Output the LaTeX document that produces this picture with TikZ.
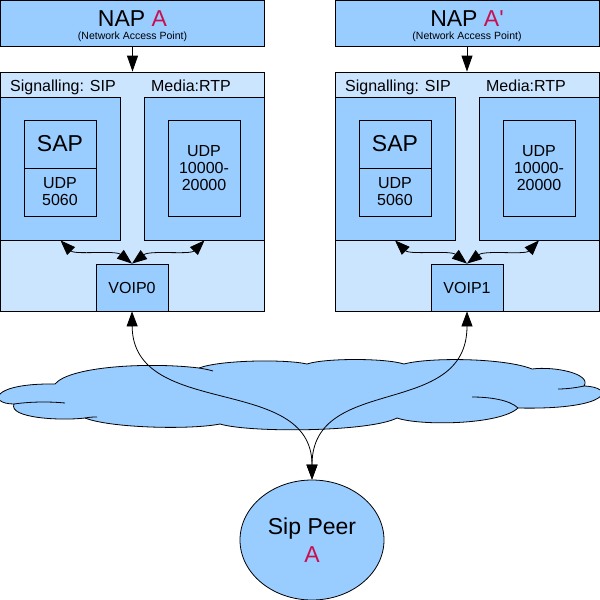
\documentclass[tikz,border=0pt]{standalone}
\usepackage{fontspec}
\setmainfont{Liberation Sans}
\usetikzlibrary{arrows.meta,shapes.geometric}
\definecolor{boxblue}{HTML}{99CCFF}
\definecolor{paleblue}{HTML}{CCE5FF}
\definecolor{napred}{HTML}{C8104E}
\tikzset{
  box/.style={draw, fill=boxblue, line width=0.8pt, inner sep=0pt, align=center, font=\fontsize{16}{17}\selectfont},
  host/.style={draw, fill=paleblue, line width=0.8pt, inner sep=0pt},
  title/.style={anchor=base, inner sep=0pt, font=\fontsize{16}{17}\selectfont},
  link/.style={line width=0.8pt, -{Triangle[length=16pt,width=11pt]}},
  dlink/.style={line width=0.8pt, {Triangle[length=15pt,width=11pt]}-{Triangle[length=15pt,width=11pt]}}
}
\begin{document}
\begin{tikzpicture}[x=1pt,y=-1pt]
\useasboundingbox (0,0) rectangle (600,600);
\filldraw[fill=boxblue, line width=0.8pt] (14,404) .. controls (-12,404) and (-10,383) .. (55,384)
  .. controls (70,366) and (150,362) .. (199,368)
  .. controls (220,360) and (285,359) .. (307,364)
  .. controls (325,358) and (385,358) .. (404,364)
  .. controls (430,357) and (505,358) .. (532,369)
  .. controls (555,366) and (592,374) .. (584,386)
  .. controls (616,387) and (612,410) .. (518,408)
  .. controls (500,425) and (420,426) .. (397,418)
  .. controls (370,432) and (250,433) .. (220,424)
  .. controls (190,430) and (110,428) .. (85,418)
  .. controls (60,421) and (8,418) .. (14,404) -- cycle;
\draw[line width=0.8pt] (14,404) .. controls (35,401) and (55,402) .. (65,403);
\draw[line width=0.8pt] (199,368) .. controls (205,369) and (210,370) .. (213,371);
\draw[line width=0.8pt] (584,386) .. controls (575,388) and (565,389) .. (558,389);
\draw[line width=0.8pt] (518,408) .. controls (510,400) and (490,397) .. (472,397);
\draw[line width=0.8pt] (85,418) .. controls (90,417) and (94,417) .. (97,417);

\node[box, minimum width=264pt, minimum height=46pt] (napA) at (132.5,23.5) {};
\node[anchor=base, inner sep=0pt, font=\fontsize{23}{26}\selectfont] (napAtext) at (132.5,26.5) {NAP \textcolor{napred}{A}};
\node[anchor=base, inner sep=0pt, font=\fontsize{10.5}{12}\selectfont] (napAnote) at (132.5,39.5) {(Network Access Point)};
\node[host, minimum width=264pt, minimum height=239pt] (hostA) at (132.5,191.5) {};
\node[title, anchor=base west] (sigAtitle) at (10,91) {Signalling: SIP};
\node[title] (medAtitle) at (191,91) {Media:RTP};
\node[box, minimum width=120pt, minimum height=143pt] (sigA) at (60.5,168.5) {};
\node[box, minimum width=120pt, minimum height=143pt] (medA) at (204.5,168.5) {};
\node[box, minimum width=72pt, minimum height=48pt, font=\fontsize{23}{26}\selectfont] (sapA) at (60,144) {SAP};
\node[box, minimum width=72pt, minimum height=48pt] (udpA) at (60,192) {UDP\\5060};
\node[box, minimum width=72pt, minimum height=96pt] (rtpA) at (204,168) {UDP\\10000-\\20000};
\node[box, minimum width=72pt, minimum height=47pt] (voipA) at (132,287.5) {VOIP0};
\draw[link] (napA) -- (hostA);
\draw[dlink] (sigA.south) .. controls (75,255) and (115,250) .. (voipA.north);
\draw[dlink] (medA.south) .. controls (190,255) and (150,250) .. (voipA.north);

\begin{scope}[xshift=335pt]
\node[box, minimum width=264pt, minimum height=46pt] (napB) at (132,23.5) {};
\node[anchor=base, inner sep=0pt, font=\fontsize{23}{26}\selectfont] (napBtext) at (132,26.5) {NAP \textcolor{napred}{A\textquotesingle}};
\node[anchor=base, inner sep=0pt, font=\fontsize{10.5}{12}\selectfont] (napBnote) at (132,39.5) {(Network Access Point)};
\node[host, minimum width=264pt, minimum height=239pt] (hostB) at (132,191.5) {};
\node[title, anchor=base west] (sigBtitle) at (10,91) {Signalling: SIP};
\node[title] (medBtitle) at (191,91) {Media:RTP};
\node[box, minimum width=120pt, minimum height=143pt] (sigB) at (60,168.5) {};
\node[box, minimum width=120pt, minimum height=143pt] (medB) at (204,168.5) {};
\node[box, minimum width=72pt, minimum height=48pt, font=\fontsize{23}{26}\selectfont] (sapB) at (60,144) {SAP};
\node[box, minimum width=72pt, minimum height=48pt] (udpB) at (60,192) {UDP\\5060};
\node[box, minimum width=72pt, minimum height=96pt] (rtpB) at (204,168) {UDP\\10000-\\20000};
\node[box, minimum width=72pt, minimum height=47pt] (voipB) at (132,287.5) {VOIP1};
\draw[link] (napB) -- (hostB);
\draw[dlink] (sigB.south) .. controls (75,255) and (115,250) .. (voipB.north);
\draw[dlink] (medB.south) .. controls (190,255) and (150,250) .. (voipB.north);
\end{scope}

\node[ellipse, draw, fill=boxblue, line width=0.8pt, minimum width=144pt, minimum height=120pt, inner sep=0pt, align=center, font=\fontsize{23}{28}\selectfont] (peer) at (312,540) {Sip Peer\\\textcolor{napred}{A}};
\draw[dlink] (voipA.south) .. controls (133,420) and (312,373) .. (peer.north);
\draw[dlink] (voipB.south) .. controls (467,420) and (312,373) .. (peer.north);
\end{tikzpicture}
\end{document}
